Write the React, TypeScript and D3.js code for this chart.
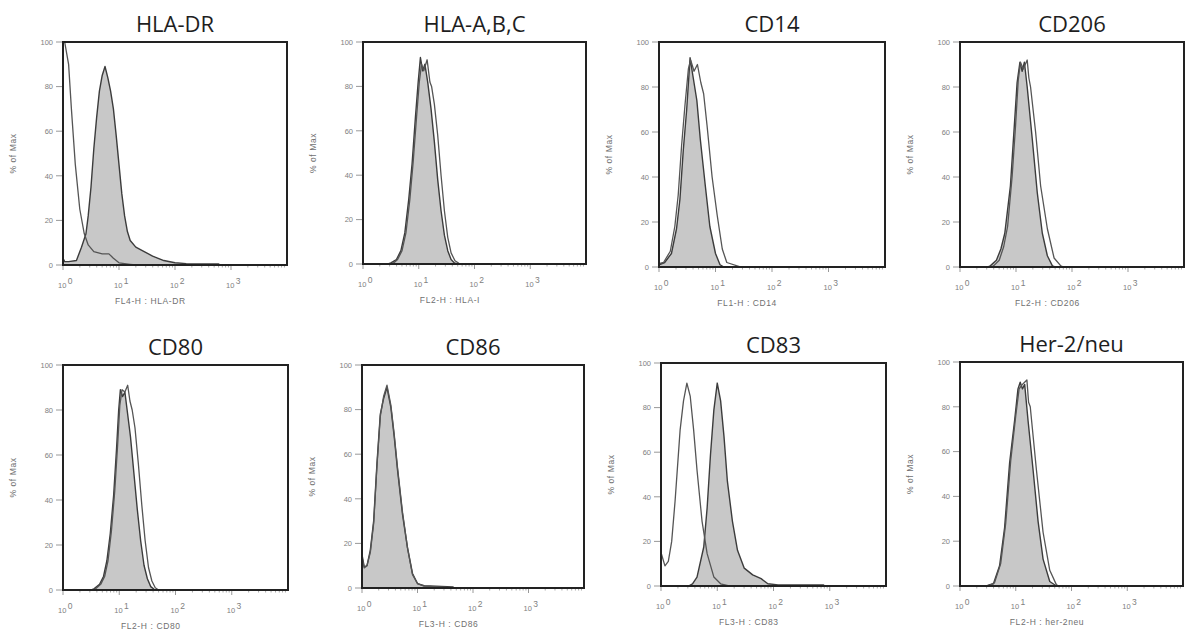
import React from 'react';
import * as d3 from 'd3';

// ---- DATA: each curve is [log10 intensity, % of max] ----
const panelTitles = ['HLA-DR', 'HLA-A,B,C', 'CD14', 'CD206', 'CD80', 'CD86', 'CD83', 'Her-2/neu'];
const axisLabels = ['FL4-H : HLA-DR', 'FL2-H : HLA-I', 'FL1-H : CD14', 'FL2-H : CD206', 'FL2-H : CD80', 'FL3-H : CD86', 'FL3-H : CD83', 'FL2-H : her-2neu'];
const yTickValues = [0, 20, 40, 60, 80, 100];
const xDecadeExps = [0, 1, 2, 3];

const hlaDrFilled: [number, number][] = [[0, 3], [0.03, 1.5], [0.1, 1.5], [0.24, 2], [0.33, 8], [0.41, 14], [0.45, 22], [0.5, 35], [0.55, 52], [0.6, 66], [0.65, 78], [0.7, 85], [0.75, 89], [0.8, 84], [0.85, 78], [0.9, 70], [0.95, 58], [1.0, 45], [1.05, 32], [1.1, 22], [1.15, 15], [1.2, 11], [1.3, 8], [1.45, 6], [1.6, 4], [1.8, 2], [2.0, 1], [2.2, 0.6], [2.78, 0.5], [2.8, 0]];
const hlaDrOpen: [number, number][] = [[0.03, 100], [0.1, 90], [0.15, 70], [0.22, 45], [0.3, 25], [0.38, 14], [0.45, 9], [0.55, 6], [0.7, 5], [0.82, 5], [0.9, 3], [1.0, 1], [1.2, 0.3], [1.3, 0]];

const hlaAbcFilled: [number, number][] = [[0.45, 0], [0.5, 0.5], [0.6, 2], [0.68, 6], [0.75, 14], [0.82, 29], [0.88, 45], [0.94, 66], [0.99, 82], [1.03, 93], [1.07, 87], [1.11, 90], [1.16, 82], [1.22, 70], [1.28, 55], [1.34, 38], [1.4, 24], [1.46, 13], [1.52, 6], [1.58, 2], [1.64, 0.5], [1.7, 0]];
const hlaAbcOpen: [number, number][] = [[0.5, 0], [0.55, 0.5], [0.62, 2], [0.7, 6], [0.77, 14], [0.84, 29], [0.9, 46], [0.96, 66], [1.01, 82], [1.05, 90], [1.09, 87], [1.15, 92], [1.2, 82], [1.23, 80], [1.28, 72], [1.34, 58], [1.4, 40], [1.46, 24], [1.52, 12], [1.58, 5], [1.65, 1.5], [1.72, 0.3], [1.78, 0]];

const cd14Filled: [number, number][] = [[0, 1], [0.1, 2], [0.22, 6], [0.31, 17], [0.37, 30], [0.43, 52], [0.49, 70], [0.55, 93], [0.6, 85], [0.67, 74], [0.73, 57], [0.82, 36], [0.9, 18], [1.0, 6], [1.08, 1], [1.15, 0]];
const cd14Open: [number, number][] = [[0, 1.5], [0.08, 2], [0.2, 7], [0.28, 18], [0.34, 32], [0.4, 54], [0.46, 72], [0.52, 88], [0.56, 92], [0.62, 87], [0.68, 90], [0.74, 82], [0.79, 77], [0.85, 63], [0.94, 40], [1.03, 23], [1.12, 8], [1.2, 2], [1.41, 0.3], [1.45, 0]];

const cd206Filled: [number, number][] = [[0.5, 0], [0.54, 0.5], [0.65, 3], [0.73, 8], [0.8, 15], [0.9, 36], [0.96, 59], [1.02, 82], [1.07, 91], [1.11, 87], [1.15, 91], [1.2, 80], [1.29, 57], [1.38, 33], [1.47, 15], [1.56, 5], [1.65, 0.5], [1.7, 0]];
const cd206Open: [number, number][] = [[0.55, 0], [0.6, 0.5], [0.7, 3], [0.78, 9], [0.85, 18], [0.93, 40], [0.99, 62], [1.04, 83], [1.08, 91], [1.13, 88], [1.2, 92], [1.23, 84], [1.26, 80], [1.35, 60], [1.44, 36], [1.56, 17], [1.68, 4], [1.8, 0.5], [1.85, 0]];

const cd80Filled: [number, number][] = [[0.5, 0], [0.55, 0.5], [0.65, 2.5], [0.72, 6], [0.78, 13], [0.84, 25], [0.9, 42], [0.95, 62], [0.99, 80], [1.02, 89], [1.06, 86], [1.1, 88], [1.14, 80], [1.2, 68], [1.26, 52], [1.32, 36], [1.38, 22], [1.44, 11], [1.5, 5], [1.56, 1.5], [1.62, 0.3], [1.66, 0]];
const cd80Open: [number, number][] = [[0.52, 0], [0.58, 0.5], [0.67, 2.5], [0.74, 6], [0.8, 13], [0.86, 26], [0.92, 44], [0.97, 64], [1.01, 82], [1.05, 89], [1.1, 88], [1.15, 91], [1.19, 84], [1.23, 80], [1.28, 72], [1.34, 56], [1.4, 38], [1.46, 22], [1.52, 10], [1.58, 4], [1.64, 1], [1.7, 0]];

const cd86Filled: [number, number][] = [[0, 15], [0.04, 9.5], [0.09, 10], [0.15, 17], [0.21, 30], [0.27, 56], [0.33, 78], [0.39, 85], [0.45, 90], [0.52, 81], [0.58, 68], [0.64, 53], [0.73, 33], [0.82, 18], [0.91, 6.5], [1.0, 2], [1.12, 1], [1.64, 0.5], [1.66, 0]];
const cd86Open: [number, number][] = [[0, 14], [0.04, 9], [0.09, 10], [0.15, 16], [0.21, 29], [0.27, 55], [0.33, 77], [0.39, 86], [0.45, 91], [0.52, 82], [0.58, 69], [0.64, 54], [0.73, 34], [0.82, 18], [0.91, 6], [1.0, 2], [1.12, 0.8], [1.5, 0.3], [1.55, 0]];

const cd83Filled: [number, number][] = [[0.49, 0], [0.56, 1], [0.64, 4], [0.76, 17.5], [0.82, 35], [0.88, 59], [0.94, 79], [1.0, 91], [1.06, 83], [1.12, 67], [1.18, 47], [1.27, 29], [1.36, 16], [1.48, 8], [1.63, 5], [1.78, 3.3], [1.9, 1], [2.08, 0.5], [2.89, 0.5], [2.9, 0]];
const cd83Open: [number, number][] = [[0, 15], [0.07, 9], [0.13, 11], [0.19, 20], [0.25, 38], [0.34, 70], [0.4, 83], [0.46, 91], [0.52, 85], [0.58, 70], [0.64, 52], [0.73, 29], [0.82, 14.5], [0.94, 4], [1.06, 1], [1.21, 0]];

const herFilled: [number, number][] = [[0.48, 0], [0.52, 0.5], [0.6, 1], [0.71, 9], [0.8, 26], [0.89, 55], [0.98, 74], [1.04, 88], [1.08, 91], [1.12, 88], [1.16, 90], [1.22, 74], [1.31, 52], [1.4, 29], [1.49, 12], [1.61, 2], [1.73, 0]];
const herOpen: [number, number][] = [[0.5, 0], [0.55, 0.5], [0.62, 1.5], [0.73, 10], [0.82, 28], [0.91, 56], [1.0, 76], [1.06, 88], [1.12, 90], [1.2, 92], [1.23, 82], [1.26, 80], [1.37, 52], [1.49, 24], [1.61, 7], [1.73, 0.5], [1.78, 0]];

const filledSeries = [hlaDrFilled, hlaAbcFilled, cd14Filled, cd206Filled, cd80Filled, cd86Filled, cd83Filled, herFilled];
const openSeries = [hlaDrOpen, hlaAbcOpen, cd14Open, cd206Open, cd80Open, cd86Open, cd83Open, herOpen];

// ---- LAYOUT: plot frames [left, top, right, bottom] ----
const frames: [number, number, number, number][] = [
  [63, 42, 287, 265], [363, 42, 586, 264], [659, 42, 885, 267], [960, 42, 1184, 267],
  [63, 365, 288, 590], [362, 365, 584, 588], [661, 363, 886, 586], [960, 362, 1183, 586],
];

const SMALL_FONT = '"Liberation Sans", Arial, sans-serif';

function Panel({ i }: { i: number }) {
  const [l, t, r, b] = frames[i];
  const x = d3.scaleLog().domain([1, 10000]).range([l, r]);
  const y = d3.scaleLinear().domain([0, 100]).range([b, t]);
  const area = d3.area<[number, number]>()
    .x(d => x(Math.pow(10, d[0])))
    .y0(y(0))
    .y1(d => y(d[1]));
  const line = d3.line<[number, number]>()
    .x(d => x(Math.pow(10, d[0])))
    .y(d => y(d[1]));
  const minor: number[] = [];
  xDecadeExps.forEach(e => {
    for (let k = 2; k <= 9; k++) minor.push(k * Math.pow(10, e));
  });
  const cx = (l + r) / 2;
  return (
    <g>
      <text x={cx} y={t - 10} textAnchor="middle" fontFamily='"Open Sans", "Noto Sans", sans-serif' fontSize={22} fill="#1e1e1e">
        {panelTitles[i]}
      </text>
      {/* y axis ticks */}
      {yTickValues.map(v => (
        <g key={'y' + v}>
          <line x1={l - 7} x2={l} y1={y(v)} y2={y(v)} stroke="#999" strokeWidth={1} />
          <text x={l - 10} y={y(v) + 2.7} textAnchor="end" fontFamily={SMALL_FONT} fontSize={7.5} fill="#808080">{v}</text>
        </g>
      ))}
      <text transform={`translate(${l - 47},${(t + b) / 2}) rotate(-90)`} textAnchor="middle" fontFamily={SMALL_FONT} fontSize={8.5} letterSpacing={0.6} fill="#707070">% of Max</text>
      {/* x axis ticks */}
      {minor.map(v => (
        <line key={'m' + v} x1={x(v)} x2={x(v)} y1={b} y2={b + 2.5} stroke="#aaa" strokeWidth={1} />
      ))}
      {xDecadeExps.map(e => (
        <g key={'x' + e}>
          <line x1={x(Math.pow(10, e))} x2={x(Math.pow(10, e))} y1={b} y2={b + 5} stroke="#999" strokeWidth={1} />
          <text x={x(Math.pow(10, e)) - 5} y={b + 23} fontFamily={SMALL_FONT} fontSize={7.5} fill="#808080">
            10<tspan dx={1.5} dy={-4.5} fontSize={8.5}>{e}</tspan>
          </text>
        </g>
      ))}
      <text x={l + 0.39 * (r - l)} y={b + 39} textAnchor="middle" fontFamily={SMALL_FONT} fontSize={8.5} letterSpacing={0.6} fill="#707070">{axisLabels[i]}</text>
      {/* curves */}
      <path d={area(filledSeries[i]) || ''} fill="#c8c8c8" stroke="#3c3c3c" strokeWidth={1.4} strokeLinejoin="round" />
      <path d={line(openSeries[i]) || ''} fill="none" stroke="#555" strokeWidth={1.3} strokeLinejoin="round" />
      {/* frame */}
      <rect x={l} y={t} width={r - l} height={b - t} fill="none" stroke="#222" strokeWidth={2} />
    </g>
  );
}

export default function App() {
  return (
    <svg width={1186} height={635} style={{ position: 'absolute', left: 0, top: 0, background: '#fff' }}>
      <rect x={0} y={0} width={1186} height={635} fill="#fff" />
      {frames.map((_, i) => <Panel key={i} i={i} />)}
    </svg>
  );
}
